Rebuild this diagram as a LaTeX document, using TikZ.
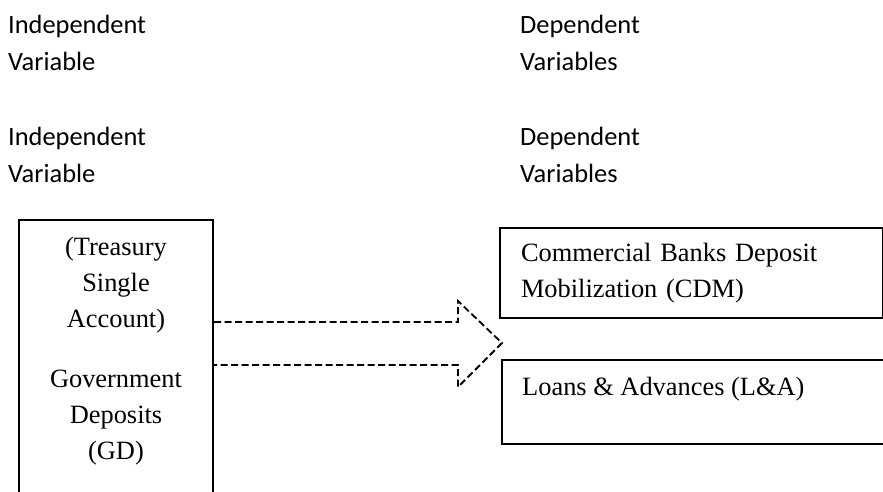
\documentclass[tikz,border=0pt]{standalone}
\usepackage{fontspec}
\setmainfont{Liberation Serif}
\newfontfamily\headfont{Carlito}
\usetikzlibrary{positioning}

\begin{document}
\begin{tikzpicture}[
    x=1pt, y=-1pt,
    head/.style={font=\headfont\fontsize{26.4}{37}\selectfont, align=left, anchor=north west, inner sep=0pt},
    box/.style={draw, line width=2pt},
    txt/.style={font=\fontsize{26.4}{36}\selectfont, inner sep=0pt},
    blockarrow/.style={draw, line width=1.8pt, dash pattern=on 7pt off 3.5pt},
]
    \useasboundingbox (0,0) rectangle (883,492);
    \clip (0,0) rectangle (883,492);
    % Column headings
    \node[head] (iv1) at (8,14.5) {Independent\\Variable};
    \node[head] (dv1) at (520,14.5) {Dependent\\Variables};
    \node[head] (iv2) at (8,126.5) {Independent\\Variable};
    \node[head] (dv2) at (520,126.5) {Dependent\\Variables};
    % Independent variable box
    \node[box, minimum width=194pt, minimum height=320pt, anchor=north] (gd) at (116,219) {};
    \node[txt, align=center, anchor=north] (gdtxt) at (116,237) {(Treasury\\Single\\Account)\\[24pt]Government\\Deposits\\(GD)};
    % Dependent variable boxes
    \node[box, txt, anchor=north west, text width=341pt, inner xsep=21pt, minimum height=90pt, align=left] (cdm) at (499,227) {Commercial Banks Deposit\\Mobilization (CDM)};
    \node[box, anchor=north west, minimum width=420pt, minimum height=84pt] (la) at (501,359) {};
    \node[txt, anchor=base west] (latxt) at (522,395) {Loans \& Advances (L\&A)};
    % Block arrow
    \coordinate (shaftT) at (458,322);
    \coordinate (shaftB) at (458,365);
    \coordinate (tip) at (502,343);
    \draw[blockarrow] (gd.east |- shaftT) -- (shaftT) -- ++(0,-21) -- (tip) -- (458,387) -- (shaftB) -- (gd.east |- shaftB);
\end{tikzpicture}
\end{document}
